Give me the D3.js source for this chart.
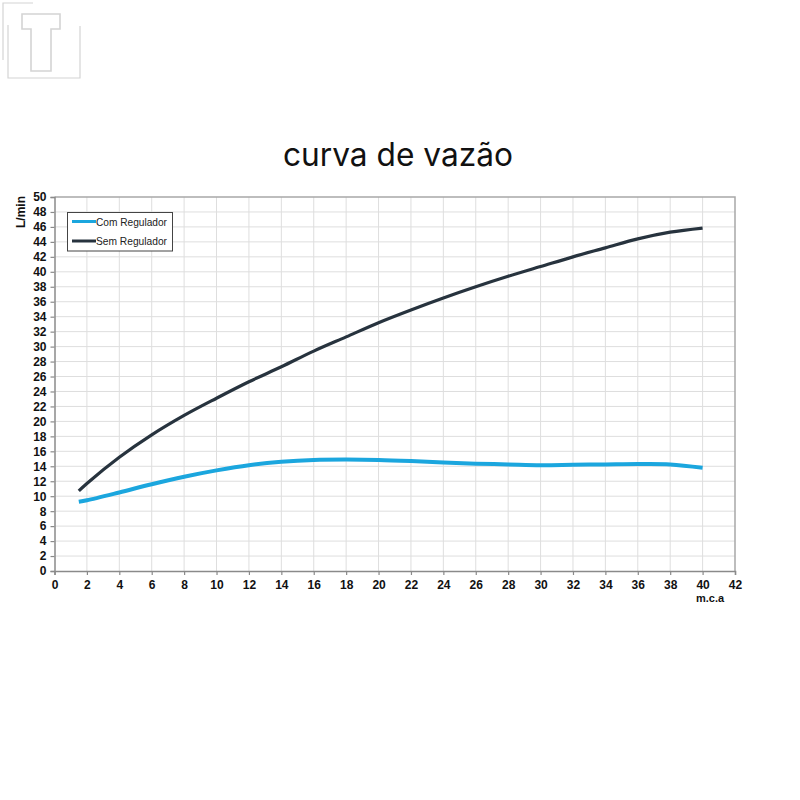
<!DOCTYPE html>
<html>
<head>
<meta charset="utf-8">
<script src="https://cdn.jsdelivr.net/npm/d3@7"></script>
<style>
  html, body { margin: 0; padding: 0; background: #fff; }
  svg { display: block; }
</style>
</head>
<body>
<svg id="chart" width="800" height="800"></svg>
<script>
// ---- data ----
const title = "curva de vazão";
const xLabel = "m.c.a";
const yLabel = "L/min";
const seriesNames = ["Com Regulador", "Sem Regulador"];
const seriesColors = ["#1ba6de", "#27333e"];
const pressure = [1.5, 2, 4, 6, 8, 10, 12, 14, 16, 18, 20, 22, 24, 26, 28, 30, 32, 34, 36, 38, 40];
const comRegulador = [9.25, 9.45, 10.5, 11.6, 12.6, 13.45, 14.15, 14.6, 14.85, 14.9, 14.85, 14.7, 14.5, 14.35, 14.25, 14.15, 14.2, 14.25, 14.3, 14.25, 13.8];
const semRegulador = [10.7, 11.7, 15.2, 18.2, 20.8, 23.1, 25.3, 27.3, 29.4, 31.3, 33.2, 34.9, 36.5, 38.0, 39.4, 40.7, 42.0, 43.2, 44.4, 45.3, 45.85];
const xTicks = d3.range(0, 43, 2);
const yTicks = d3.range(0, 51, 2);

// ---- layout ----
const svg = d3.select("#chart");
const pLeft = 54.5, pRight = 735, pTop = 197, pBottom = 571;
const x = d3.scaleLinear().domain([0, 42]).range([pLeft, pRight]);
const y = d3.scaleLinear().domain([0, 50]).range([pBottom, pTop]);

// logo (decorative)
const logo = svg.append("g").attr("fill", "none").attr("stroke", "#d4d4d4").attr("stroke-width", 1.2);
logo.append("path").attr("d", "M3,60 V3 H33");
logo.append("path").attr("d", "M8,25 V78 H80 V26");
logo.append("path").attr("d", "M22,14 H60 V29 H51 V71 H31 V29 H22 Z").attr("stroke-width", 1.6);

// title
svg.append("text")
  .attr("x", 398).attr("y", 166)
  .attr("text-anchor", "middle")
  .attr("font-family", "Inter, 'Open Sans', sans-serif")
  .attr("font-size", 32).attr("fill", "#111")
  .attr("textLength", 230).attr("lengthAdjust", "spacingAndGlyphs")
  .text(title);

// grid
const grid = svg.append("g").attr("stroke", "#dedede").attr("stroke-width", 1);
grid.selectAll("line.v").data(xTicks.filter(d => d > 0 && d < 42)).join("line")
  .attr("class", "v")
  .attr("x1", d => x(d)).attr("x2", d => x(d)).attr("y1", pTop).attr("y2", pBottom);
grid.selectAll("line.h").data(yTicks.filter(d => d > 0 && d < 50)).join("line")
  .attr("class", "h")
  .attr("x1", pLeft).attr("x2", pRight).attr("y1", d => y(d)).attr("y2", d => y(d));

// frame (top & right)
svg.append("path")
  .attr("d", `M${pLeft},${pTop} H${pRight} V${pBottom}`)
  .attr("fill", "none").attr("stroke", "#a8a8a8").attr("stroke-width", 1.5);

// axes
const fontTick = "'Liberation Sans', Arial, sans-serif";
const yAxis = svg.append("g").attr("transform", `translate(${pLeft},0)`)
  .call(d3.axisLeft(y).tickValues(yTicks).tickSize(4).tickPadding(4).tickFormat(d3.format("d")));
const xAxis = svg.append("g").attr("transform", `translate(0,${pBottom})`)
  .call(d3.axisBottom(x).tickValues(xTicks).tickSize(4).tickPadding(5).tickFormat(d3.format("d")));
[xAxis, yAxis].forEach(a => {
  a.select(".domain").attr("stroke", "#8a8a8a").attr("stroke-width", 1.5);
  a.selectAll(".tick line").attr("stroke", "#8a8a8a").attr("stroke-width", 1.2);
  a.selectAll(".tick text").attr("fill", "#111").attr("font-family", fontTick)
    .attr("font-size", 12).attr("font-weight", "bold");
});

// axis titles
svg.append("text")
  .attr("transform", "translate(25,212) rotate(-90)")
  .attr("text-anchor", "middle")
  .attr("font-family", fontTick).attr("font-size", 12).attr("font-weight", "bold").attr("fill", "#111")
  .text(yLabel);
svg.append("text")
  .attr("x", 710).attr("y", 602)
  .attr("text-anchor", "middle")
  .attr("font-family", fontTick).attr("font-size", 11).attr("font-weight", "bold").attr("fill", "#111")
  .text(xLabel);

// lines
const line = d3.line().x(d => x(d[0])).y(d => y(d[1])).curve(d3.curveCatmullRom.alpha(0.5));
const series = [comRegulador, semRegulador];
const widths = [4, 3.2];
series.forEach((vals, i) => {
  svg.append("path")
    .datum(pressure.map((p, j) => [p, vals[j]]))
    .attr("fill", "none")
    .attr("stroke", seriesColors[i])
    .attr("stroke-width", widths[i])
    .attr("stroke-linecap", "butt")
    .attr("d", line);
});

// legend
const lg = svg.append("g");
lg.append("rect").attr("x", 67.5).attr("y", 212.5).attr("width", 105).attr("height", 38.5)
  .attr("fill", "#fff").attr("stroke", "#444").attr("stroke-width", 1);
seriesNames.forEach((name, i) => {
  const yy = 221.5 + i * 19.5;
  lg.append("line").attr("x1", 72).attr("x2", 96).attr("y1", yy).attr("y2", yy)
    .attr("stroke", seriesColors[i]).attr("stroke-width", 3);
  lg.append("text").attr("x", 96).attr("y", yy + 4)
    .attr("font-family", fontTick).attr("font-size", 11).attr("fill", "#222")
    .attr("textLength", 71).attr("lengthAdjust", "spacingAndGlyphs")
    .text(name);
});
</script>
</body>
</html>
